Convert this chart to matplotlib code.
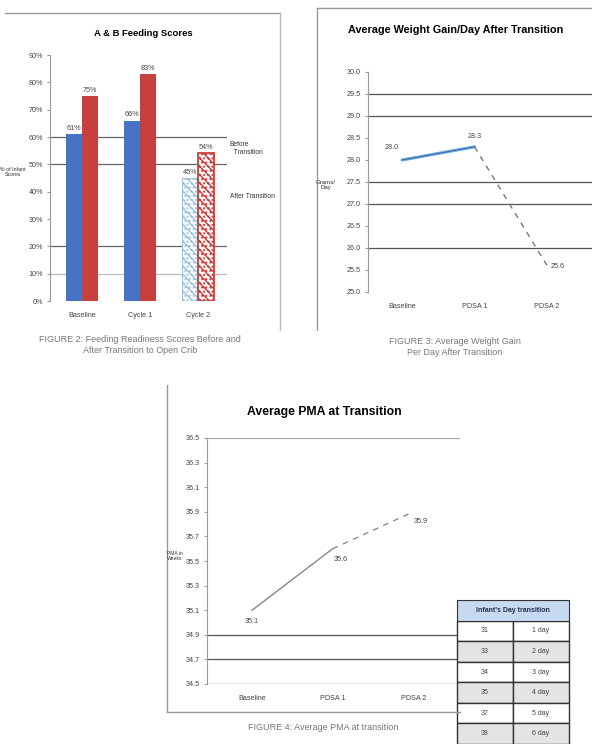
import matplotlib
matplotlib.use("Agg")
import matplotlib.pyplot as plt
from matplotlib.lines import Line2D
from matplotlib.patches import Rectangle

plt.rcParams['font.family'] = ['Liberation Sans Narrow', 'Liberation Sans', 'DejaVu Sans']
plt.rcParams['hatch.linewidth'] = 1.0

W, H = 592, 744

# figure 2 data
feed_cats = ['Baseline', 'Cycle 1', 'Cycle 2']
feed_before = [61, 66, 45]
feed_after = [75, 83, 54]
feed_labels_before = ['61%', '66%', '45%']
feed_labels_after = ['75%', '83%', '54%']
feed_ticks = [0, 10, 20, 30, 40, 50, 60, 70, 80, 90]

# figure 3 data
wg_cats = ['Baseline', 'PDSA 1', 'PDSA 2']
wg_vals = [28.0, 28.3, 25.6]
wg_ticks = [25.0, 25.5, 26.0, 26.5, 27.0, 27.5, 28.0, 28.5, 29.0, 29.5, 30.0]

# figure 4 data
pma_cats = ['Baseline', 'PDSA 1', 'PDSA 2']
pma_vals = [35.1, 35.6, 35.9]
pma_ticks = [34.5, 34.7, 34.9, 35.1, 35.3, 35.5, 35.7, 35.9, 36.1, 36.3, 36.5]

# table
tbl_header = "Infant's Day transition"
tbl_left = ['31', '33', '34', '35', '37', '38']
tbl_right = ['1 day', '2 day', '3 day', '4 day', '5 day', '6 day']

BLUE = '#4673C4'
RED = '#C8403E'
TICK = 5.2


def px_axes(x0, y0, x1, y1):
    return fig.add_axes([x0 / W, 1 - y1 / H, (x1 - x0) / W, (y1 - y0) / H])


def fline(xs, ys, **kw):
    fig.add_artist(Line2D([x / W for x in xs], [1 - y / H for y in ys],
                          transform=fig.transFigure, **kw))


def ftext(x, y, s, **kw):
    fig.text(x / W, 1 - y / H, s, **kw)


def style_axes(ax):
    for s in ['top', 'right', 'bottom']:
        ax.spines[s].set_visible(False)
    ax.spines['left'].set_color('#999999')
    ax.tick_params(axis='y', labelsize=TICK, length=2, color='#999999', labelcolor='#444444', pad=3)
    ax.tick_params(axis='x', labelsize=TICK, length=0, labelcolor='#444444', pad=8)


fig = plt.figure(figsize=(W / 100, H / 100), dpi=100)

# ---------- figure 2: bars ----------
fline([5, 280], [13, 13], color='#999999', lw=1)
fline([280, 280], [13, 330], color='#bbbbbb', lw=1)
ftext(143, 33, 'A & B Feeding Scores', ha='center', va='center', fontsize=6.8, fontweight='bold')

ax1 = px_axes(50, 55, 227, 301)
style_axes(ax1)
x = list(range(len(feed_cats)))
bw = 0.27
solid = [0, 1]
ax1.bar([x[i] - bw / 2 for i in solid], [feed_before[i] for i in solid], bw, color=BLUE)
ax1.bar([x[i] + bw / 2 for i in solid], [feed_after[i] for i in solid], bw, color=RED)
ax1.bar(x[2] - bw / 2, feed_before[2], bw, facecolor='white', edgecolor='#9fc3dc', hatch='\\\\\\\\....', lw=0.8)
ax1.bar(x[2] + bw / 2, feed_after[2], bw, facecolor='white', edgecolor=RED, hatch='\\\\\\\\....', lw=1.3)
for i in x:
    ax1.text(x[i] - bw / 2, feed_before[i] + 1.5, feed_labels_before[i], ha='center', fontsize=TICK, color='#444444')
    ax1.text(x[i] + bw / 2, feed_after[i] + 1.5, feed_labels_after[i], ha='center', fontsize=TICK, color='#444444')
for g in [10, 20, 50, 60]:
    ax1.axhline(g, xmin=0, xmax=1, color='#666666' if g != 10 else '#bbbbbb', lw=0.9, zorder=0)
ax1.set_xlim(-0.55, 2.5)
ax1.set_ylim(0, 90)
ax1.set_yticks(feed_ticks)
ax1.set_yticklabels([f'{t}%' for t in feed_ticks])
ax1.set_xticks(x)
ax1.set_xticklabels(feed_cats)
ftext(13, 172, '% of Infant\nScores', ha='center', va='center', fontsize=3.8, color='#333333')
ftext(230, 148, 'Before\n  Transition', ha='left', va='center', fontsize=4.8, color='#333333')
ftext(230, 196, 'After Transition', ha='left', va='center', fontsize=4.8, color='#333333')
ftext(140, 345, 'FIGURE 2: Feeding Readiness Scores Before and\nAfter Transition to Open Crib',
      ha='center', va='center', fontsize=6.5, color='#777777', linespacing=1.4)

# ---------- figure 3: weight gain ----------
fline([317, 317], [8, 330], color='#999999', lw=1)
fline([317, 592], [8, 8], color='#999999', lw=1)
ftext(456, 30, 'Average Weight Gain/Day After Transition', ha='center', va='center',
      fontsize=7.8, fontweight='bold')

ax2 = px_axes(368, 72, 592, 292)
style_axes(ax2)
xi = list(range(len(wg_cats)))
for g in [26.0, 27.0, 27.5, 29.0, 29.5]:
    ax2.axhline(g, color='#555555', lw=0.9, zorder=0)
ax2.plot(xi[:2], wg_vals[:2], color='#6aa6e0', lw=2.2, solid_capstyle='round')
ax2.plot(xi[:2], wg_vals[:2], color='#2f5c8a', lw=0.5)
ax2.plot(xi[1:], wg_vals[1:], color='#777777', lw=1.0, ls=(0, (4, 4)))
ax2.text(xi[0] - 0.05, wg_vals[0] + 0.25, f'{wg_vals[0]:.1f}', ha='right', fontsize=TICK, color='#444444')
ax2.text(xi[1], wg_vals[1] + 0.2, f'{wg_vals[1]:.1f}', ha='center', fontsize=TICK, color='#444444')
ax2.text(xi[2] + 0.05, wg_vals[2] + 0.05, f'{wg_vals[2]:.1f}', ha='left', va='top', fontsize=TICK, color='#444444')
ax2.set_xlim(-0.47, 2.62)
ax2.set_ylim(25.0, 30.0)
ax2.set_yticks(wg_ticks)
ax2.set_yticklabels([f'{t:.1f}' for t in wg_ticks])
ax2.set_xticks(xi)
ax2.set_xticklabels(wg_cats)
ftext(326, 185, 'Grams/\nDay', ha='center', va='center', fontsize=4.4, color='#333333')
ftext(455, 347, 'FIGURE 3: Average Weight Gain\nPer Day After Transition',
      ha='center', va='center', fontsize=6.5, color='#777777', linespacing=1.4)

# ---------- figure 4: PMA ----------
fline([167, 167], [385, 712], color='#999999', lw=1)
fline([167, 460], [712, 712], color='#999999', lw=1)
ftext(324, 412, 'Average PMA at Transition', ha='center', va='center', fontsize=8.8, fontweight='bold')

ax3 = px_axes(207, 438, 460, 684)
style_axes(ax3)
xp = list(range(len(pma_cats)))
for g in [34.5, 34.7, 34.9, 36.5]:
    ax3.axhline(g, color='#555555' if g != 36.5 else '#aaaaaa', lw=0.9, zorder=0)
ax3.plot(xp[:2], pma_vals[:2], color='#7a8a95', lw=1.0)
ax3.plot(xp[1:], pma_vals[1:], color='#8a8a8a', lw=1.0, ls=(0, (4, 4)))
ax3.text(xp[0], pma_vals[0] - 0.06, f'{pma_vals[0]:.1f}', ha='center', va='top', fontsize=TICK, color='#444444')
ax3.text(xp[1] + 0.1, pma_vals[1] - 0.06, f'{pma_vals[1]:.1f}', ha='center', va='top', fontsize=TICK, color='#444444')
ax3.text(xp[2] + 0.1, pma_vals[2] - 0.05, f'{pma_vals[2]:.1f}', ha='center', va='top', fontsize=TICK, color='#444444')
ax3.set_xlim(-0.56, 2.58)
ax3.set_ylim(34.5, 36.5)
ax3.set_yticks(pma_ticks)
ax3.set_yticklabels([f'{t:.1f}' for t in pma_ticks])
ax3.set_xticks(xp)
ax3.set_xticklabels(pma_cats)
ftext(175, 556, 'PMA in\nWeeks', ha='center', va='center', fontsize=3.6, color='#333333')
ftext(323, 727, 'FIGURE 4: Average PMA at transition', ha='center', va='center',
      fontsize=6.5, color='#777777')

# ---------- table ----------
axt = px_axes(457, 600, 569, 744)
axt.set_axis_off()
n = len(tbl_left)
hdr = 1 / (n + 1)
axt.add_patch(Rectangle((0, 1 - hdr), 1, hdr, facecolor='#c6d9f1', edgecolor='#333333',
                        lw=0.8, transform=axt.transAxes, clip_on=False))
axt.text(0.5, 1 - hdr / 2, tbl_header, ha='center', va='center', fontsize=5,
         fontweight='bold', color='#1f2f4f', transform=axt.transAxes)
rows = [[a, b] for a, b in zip(tbl_left, tbl_right)]
tb = axt.table(cellText=rows, cellLoc='center', bbox=[0, 0, 1, 1 - hdr])
tb.auto_set_font_size(False)
for (r, c), cell in tb.get_celld().items():
    cell.set_fontsize(5)
    cell.set_edgecolor('#333333')
    cell.set_linewidth(1.0)
    cell.set_facecolor('#ffffff' if r % 2 == 0 else '#e4e4e4')
    cell.get_text().set_color('#444444')

fig.savefig('out.png', dpi=100)
